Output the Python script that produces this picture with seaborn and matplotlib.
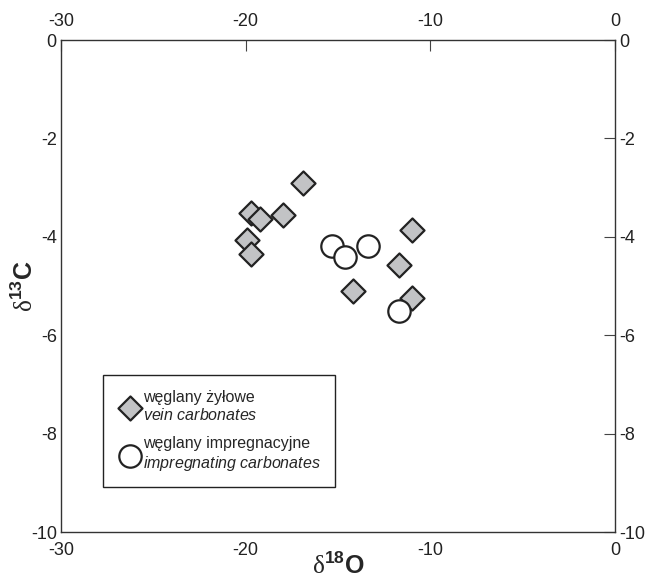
import pandas as pd
import matplotlib
matplotlib.use("Agg")
import matplotlib.pyplot as plt
import seaborn as sns

# vein carbonates (diamonds)
vein_d18o = [-16.9, -19.7, -19.2, -18.0, -19.9, -19.7, -11.0, -11.7, -14.2, -11.0]
vein_d13c = [-2.91, -3.51, -3.64, -3.56, -4.07, -4.34, -3.86, -4.57, -5.10, -5.25]
# impregnating carbonates (circles)
impr_d18o = [-15.3, -14.6, -13.4, -11.7]
impr_d13c = [-4.18, -4.42, -4.19, -5.50]

x_ticks = [-30, -20, -10, 0]
y_ticks = [0, -2, -4, -6, -8, -10]

vein_label = "węglany żyłowe\n$\\mathit{vein\\ carbonates}$"
impr_label = "węglany impregnacyjne\n$\\mathit{impregnating\\ carbonates}$"

sns.set_style("white")
plt.rcParams["font.family"] = ["Liberation Sans", "DejaVu Sans"]
plt.rcParams["mathtext.fontset"] = "custom"
plt.rcParams["mathtext.rm"] = "Liberation Sans"
plt.rcParams["mathtext.it"] = "Liberation Sans:italic"
plt.rcParams["mathtext.bf"] = "Liberation Sans:bold"
plt.rcParams["mathtext.sf"] = "Liberation Serif"

vein_df = pd.DataFrame({"d18O": vein_d18o, "d13C": vein_d13c})
impr_df = pd.DataFrame({"d18O": impr_d18o, "d13C": impr_d13c})

fig = plt.figure(figsize=(6.5, 5.81), dpi=100)
ax = fig.add_axes([0.0938, 0.0843, 0.8523, 0.8468])

sns.scatterplot(data=vein_df, x="d18O", y="d13C", marker="D", s=150,
                color="#c2c3c5", edgecolor="#222222", linewidth=1.6,
                label=vein_label, ax=ax, zorder=3)
sns.scatterplot(data=impr_df, x="d18O", y="d13C", marker="o", s=260,
                color="white", edgecolor="#222222", linewidth=1.6,
                label=impr_label, ax=ax, zorder=4)

ax.set_xlim(-30, 0)
ax.set_ylim(-10, 0)
ax.set_xticks(x_ticks)
ax.set_yticks(y_ticks)
ax.set_xticklabels([str(t) for t in x_ticks])
ax.set_yticklabels([str(t) for t in y_ticks])
ax.tick_params(direction="in", length=8, width=0.8, color="#444444",
               top=True, right=True, labeltop=True, labelright=True,
               labelsize=13, labelcolor="#222222")
ax.tick_params(axis="x", pad=7)
ax.tick_params(axis="y", pad=3)
for sp in ax.spines.values():
    sp.set_color("#333333")
    sp.set_linewidth(1.0)

ax.set_xlabel("$\\mathsf{\\delta}^{\\mathbf{18}}\\mathbf{O}$", fontsize=18)
ax.set_ylabel("$\\mathsf{\\delta}^{\\mathbf{13}}\\mathbf{C}$", fontsize=18)
ax.xaxis.set_label_coords(0.5, -0.042)
ax.yaxis.set_label_coords(-0.042, 0.5)

leg = ax.legend(loc="lower left", bbox_to_anchor=(0.076, 0.091), borderaxespad=0,
                fancybox=False, edgecolor="#222222", framealpha=1, fontsize=11.5,
                handletextpad=0.0, labelspacing=0.8, borderpad=0.9, handlelength=1.6)
leg.get_frame().set_linewidth(1.0)

fig.savefig("out.png", dpi=100)
